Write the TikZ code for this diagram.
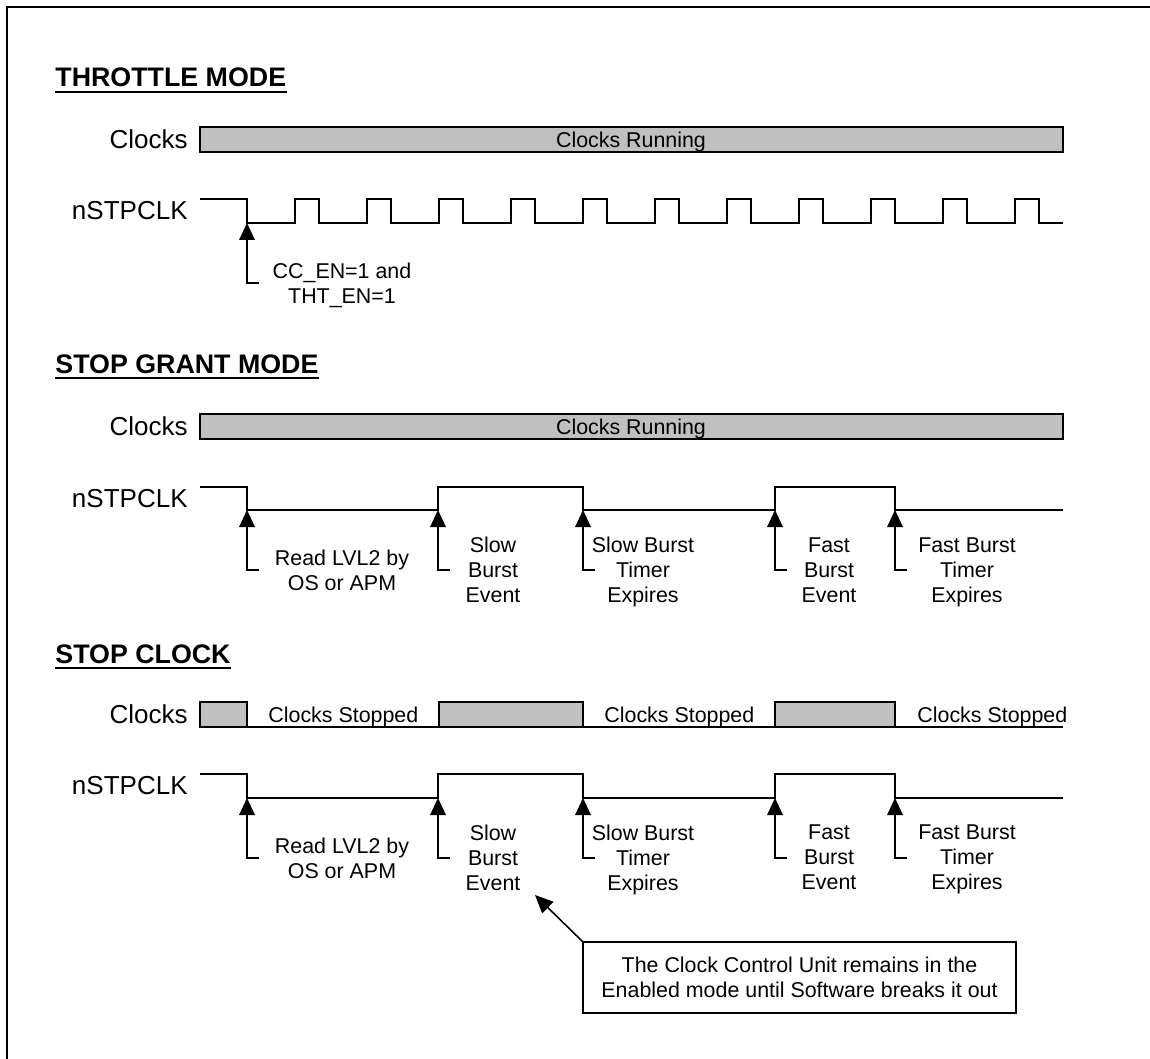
\documentclass[tikz,border=0pt]{standalone}
\usepackage{fontspec}
\setmainfont{Liberation Sans}
\usetikzlibrary{arrows.meta}
\definecolor{barfill}{RGB}{192,192,192}
\begin{document}
\begin{tikzpicture}[x=0.5pt,y=-0.5pt,
  lbl/.style={font=\fontsize{13}{15}\selectfont, inner sep=0pt, anchor=east},
  ttl/.style={font=\fontsize{13.4}{16}\selectfont\bfseries, inner sep=0pt, anchor=base west},
  sm/.style={font=\fontsize{10.7}{12.5}\selectfont, inner sep=0pt, align=center, anchor=north},
  bartxt/.style={font=\fontsize{10.7}{12.5}\selectfont, inner sep=0pt, text depth=0pt},
  sig/.style={line width=1pt, line join=miter},
  bar/.style={draw, line width=0.75pt, fill=barfill},
  uline/.style={line width=1pt},
  evmark/.pic={\fill (0,0) -- (-8,17) -- (8,17) -- cycle; \draw[line width=1pt] (0,16) -- (0,60) -- (12,60);}
]
\useasboundingbox (0,0) rectangle (1150,1059);
\draw[line width=1pt] (7,1059) -- (7,7) -- (1150,7);

% ---------------- THROTTLE MODE ----------------
\node[ttl] (t1) at (55,87) {THROTTLE MODE};
\draw[uline] ([yshift=-2.5pt]t1.base west) -- ([yshift=-2.5pt]t1.base east);
\node[lbl] (c1) at (188,139.5) {Clocks};
\draw[bar] (200,127) rectangle (1063,152);
\node[bartxt] (cr1) at (631,139.5) {Clocks Running};
\node[lbl] (n1) at (188,211) {nSTPCLK};
\draw[sig] (200,199) -- (247,199) -- (247,223)
  foreach \x in {295,367,...,1015}{ -- (\x,223) -- (\x,199) -- (\x+24,199) -- (\x+24,223)} -- (1063,223);
\pic at (247,223) {evmark};
\node[sm] (e1) at (342,263) {CC\_EN=1 and\\THT\_EN=1};

% ---------------- STOP GRANT MODE ----------------
\node[ttl] (t2) at (55,373) {STOP GRANT MODE};
\draw[uline] ([yshift=-2.5pt]t2.base west) -- ([yshift=-2.5pt]t2.base east);
\node[lbl] (c2) at (188,426.5) {Clocks};
\draw[bar] (200,414) rectangle (1063,439);
\node[bartxt] (cr2) at (631,426.5) {Clocks Running};
\node[lbl] (n2) at (188,498.5) {nSTPCLK};
\draw[sig] (200,487) -- (247,487) -- (247,510) -- (438,510) -- (438,487) -- (583,487) -- (583,510)
  -- (775,510) -- (775,487) -- (895,487) -- (895,510) -- (1063,510);
\foreach \x in {247,438,583,775,895} \pic at (\x,510) {evmark};
\node[sm] (g1) at (342,550) {Read LVL2 by\\OS or APM};
\node[sm] (g2) at (493,537) {Slow\\Burst\\Event};
\node[sm] (g3) at (643,537) {Slow Burst\\Timer\\Expires};
\node[sm] (g4) at (829,537) {Fast\\Burst\\Event};
\node[sm] (g5) at (967,537) {Fast Burst\\Timer\\Expires};

% ---------------- STOP CLOCK ----------------
\node[ttl] (t3) at (55,663) {STOP CLOCK};
\draw[uline] ([yshift=-2.5pt]t3.base west) -- ([yshift=-2.5pt]t3.base east);
\node[lbl] (c3) at (188,714.5) {Clocks};
\draw[bar] (200,702) rectangle (247,727);
\draw[bar] (439,702) rectangle (583,727);
\draw[bar] (775,702) rectangle (895,727);
\draw[line width=0.75pt] (200,727) -- (1063,727);
\node[bartxt, anchor=west] (s1) at (268,714.5) {Clocks Stopped};
\node[bartxt, anchor=west] (s2) at (604,714.5) {Clocks Stopped};
\node[bartxt, anchor=west] (s3) at (917,714.5) {Clocks Stopped};
\node[lbl] (n3) at (188,786) {nSTPCLK};
\draw[sig] (200,774) -- (247,774) -- (247,798) -- (438,798) -- (438,774) -- (583,774) -- (583,798)
  -- (775,798) -- (775,774) -- (895,774) -- (895,798) -- (1063,798);
\foreach \x in {247,438,583,775,895} \pic at (\x,798) {evmark};
\node[sm] (h1) at (342,837.5) {Read LVL2 by\\OS or APM};
\node[sm] (h2) at (493,824.5) {Slow\\Burst\\Event};
\node[sm] (h3) at (643,824.5) {Slow Burst\\Timer\\Expires};
\node[sm] (h4) at (829,824.5) {Fast\\Burst\\Event};
\node[sm] (h5) at (967,824.5) {Fast Burst\\Timer\\Expires};

% callout
\node[draw, line width=0.75pt, minimum width=216.5pt, minimum height=35.5pt, inner sep=0pt,
      align=center, font=\fontsize{10.7}{12.5}\selectfont] (co) at (799.5,977.5)
  {The Clock Control Unit remains in the\\Enabled mode until Software breaks it out};
\coordinate (tipA) at (535,895);
\draw[line width=0.8pt, -{Triangle[length=9pt,width=8pt]}] (co.north west) -- (tipA);
\end{tikzpicture}
\end{document}
